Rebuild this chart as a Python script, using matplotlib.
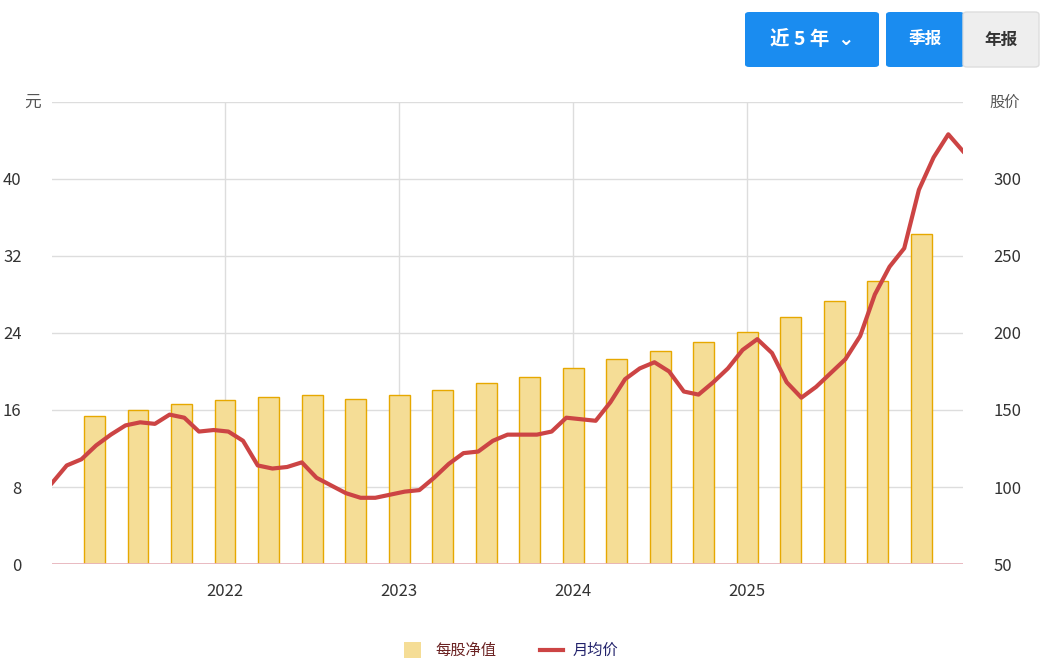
import matplotlib
matplotlib.use("Agg")
import matplotlib.pyplot as plt
from matplotlib.patches import FancyBboxPatch
import numpy as np

plt.rcParams['font.family'] = ['Noto Sans CJK SC', 'DejaVu Sans']

bar_x = [2021.25 + 0.25 * i for i in range(20)]
bvps = [15.4, 16.0, 16.6, 17.0, 17.4, 17.6, 17.1, 17.6, 18.1, 18.8,
        19.4, 20.4, 21.3, 22.1, 23.1, 24.1, 25.7, 27.3, 29.4, 34.3]
price = [102.6, 114, 118, 127, 134, 140, 142, 141, 147, 145, 136, 137, 136, 130, 114, 112,
         113, 116, 106, 101, 96, 93, 93, 95, 97, 98, 106, 115, 122, 123, 130, 134,
         134, 134, 136, 145, 144, 143, 155, 170, 177, 181, 175, 162, 160, 168, 177, 189,
         196, 187, 168, 158, 165, 174, 183, 198, 225, 243, 255, 293, 314, 329, 318]
x0 = 2021.006
x1 = 2026.24
price_x = np.linspace(x0, x1, len(price))
years = [2022, 2023, 2024, 2025]

fig = plt.figure(figsize=(10.43, 6.62), dpi=100)
ax = fig.add_axes([0.0499, 0.148, 0.8734, 0.698])
ax2 = ax.twinx()
ax.bar(bar_x, bvps, width=0.12, color='#f5dd96', edgecolor='#e6a800', linewidth=1, zorder=2)
ax2.plot(price_x, price, color='#cc4444', linewidth=3, zorder=3)
ax.set_xlim(x0, x1)
ax.set_ylim(0, 48)
ax2.set_ylim(50, 350)
ax.set_yticks(range(0, 41, 8))
ax2.set_yticks(range(50, 301, 50))
ax.set_xticks(years)
ax.set_xticklabels([str(y) for y in years])
ax.grid(True, color='#dddddd', linewidth=1, zorder=0)
ax.axhline(48, color='#dddddd', linewidth=1)
for a in (ax, ax2):
    for s in a.spines.values():
        s.set_visible(False)
    a.tick_params(length=0, labelsize=12, colors='#333333')
ax.tick_params(axis='y', pad=22)
ax2.tick_params(axis='y', pad=22)
ax.tick_params(axis='x', pad=14)
ax.axhline(0, color='#e8b4bc', linewidth=2, zorder=4)
ax.set_axisbelow(True)
fig.text(0.023, 0.845, '元', fontsize=12, color='#555555', va='center')
fig.text(0.949, 0.845, '股价', fontsize=11, color='#555555', va='center')

# buttons
def button(x, y, w, h, fc, text, tc, fs, ec='none'):
    p = FancyBboxPatch((x / 1043, 1 - (y + h) / 662), w / 1043, h / 662,
                       boxstyle='round,pad=0,rounding_size=0.004', fc=fc, ec=ec,
                       transform=fig.transFigure)
    fig.patches.append(p)
    fig.text((x + w / 2) / 1043, 1 - (y + h / 2) / 662, text, color=tc, fontsize=fs,
             ha='center', va='center', weight='bold')
button(745, 12, 134, 55, '#1a8cf0', '近 5 年  ⌄', 'white', 14)
button(886, 12, 78, 55, '#1a8cf0', '季报', 'white', 12)
button(963, 12, 76, 55, '#eeeeee', '年报', '#333333', 12, ec='#dddddd')

# legend
fig.patches.append(FancyBboxPatch((404 / 1043, 1 - 658 / 662), 17 / 1043, 16 / 662,
                                  boxstyle='square,pad=0', fc='#f5dd96', ec='none',
                                  transform=fig.transFigure))
fig.text(435 / 1043, 1 - 650 / 662, '每股净值', fontsize=11, color='#6b2222', va='center')
fig.lines.append(plt.Line2D([540 / 1043, 563 / 1043], [1 - 650 / 662] * 2, color='#cc4444',
                            lw=3, transform=fig.transFigure))
fig.text(573 / 1043, 1 - 650 / 662, '月均价', fontsize=11, color='#22226b', va='center')

fig.savefig('out.png', dpi=100)
